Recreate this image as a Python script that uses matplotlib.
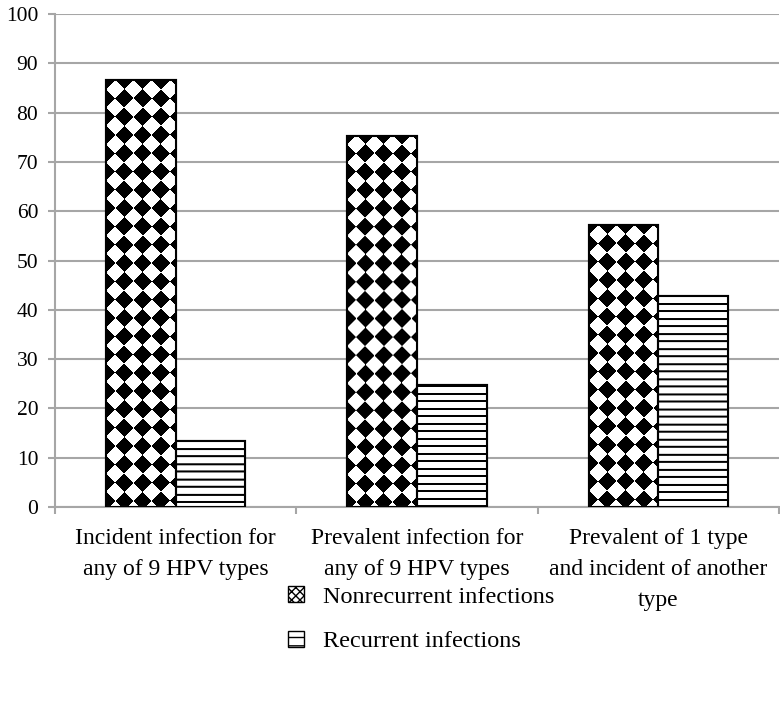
import numpy as np
import matplotlib
matplotlib.use("Agg")
import matplotlib.pyplot as plt
from matplotlib.patches import Patch

categories = ["Incident infection for\nany of 9 HPV types",
              "Prevalent infection for\nany of 9 HPV types",
              "Prevalent of 1 type\nand incident of another\ntype"]
nonrecurrent = [86.6, 75.3, 57.1]
recurrent = [13.4, 24.7, 42.9]
series_names = ["Nonrecurrent infections", "Recurrent infections"]
y_ticks = list(range(0, 101, 10))

plt.rcParams['font.family'] = ['Liberation Serif', 'DejaVu Serif']
grid_col = '#a6a6a6'

fig = plt.figure(figsize=(7.8, 7.08), dpi=100)
fig.set_facecolor('#FFFFFF')
ax = fig.add_axes([55 / 780, 1 - 507 / 708, 724 / 780, 493 / 708])

x = np.arange(len(categories))
w = 0.288
ax.set_xlim(-0.5, len(categories) - 0.5)
ax.set_ylim(0, 100)


def diamonds(h, wd, s=18.3):
    yy, xx = np.mgrid[0:h, 0:wd] + 0.5
    xx = xx - s / 2
    return ((np.floor((xx + yy) / s) + np.floor((xx - yy) / s)) % 2 == 0)


def stripes(h, wd, step=7.5, thick=2):
    yy, xx = np.mgrid[0:h, 0:wd]
    return (yy % step) < thick


def fill_pattern(bars, maker):
    for b in bars:
        x0, y0 = b.get_x(), b.get_y()
        x1, y1 = x0 + b.get_width(), y0 + b.get_height()
        p0 = ax.transData.transform((x0, y0))
        p1 = ax.transData.transform((x1, y1))
        wd = max(int(round(p1[0] - p0[0])), 1)
        h = max(int(round(p1[1] - p0[1])), 1)
        img = maker(h, wd)
        im = ax.imshow(np.where(img, 0.0, 1.0), cmap='gray', vmin=0, vmax=1,
                       extent=(x0, x1, y0, y1), origin='upper', aspect='auto',
                       interpolation='antialiased', zorder=2.5)
        im.set_clip_path(b)


b1 = ax.bar(x - w / 2, nonrecurrent, w, color='white', edgecolor='black',
            linewidth=1.5, zorder=2)
b2 = ax.bar(x + w / 2, recurrent, w, color='white', edgecolor='black',
            linewidth=1.5, zorder=2)
ax.set_xlim(-0.5, len(categories) - 0.5)
ax.set_ylim(0, 100)
fill_pattern(b1, diamonds)
fill_pattern(b2, stripes)
# outlines on top of the patterns
ax.bar(x - w / 2, nonrecurrent, w, facecolor='none', edgecolor='black',
       linewidth=1.5, zorder=3)
ax.bar(x + w / 2, recurrent, w, facecolor='none', edgecolor='black',
       linewidth=1.5, zorder=3)

ax.set_yticks(y_ticks)
ax.yaxis.grid(True, color=grid_col, linewidth=1.5, zorder=0)
ax.set_axisbelow(True)
ax.tick_params(axis='y', length=5, color=grid_col, width=1.5, labelsize=15.5, pad=7)

ax.set_xticks(x)
ax.set_xticklabels(categories, fontsize=17, linespacing=1.63)
ax.set_xticks(np.arange(-0.5, len(categories)), minor=True)
ax.tick_params(axis='x', which='major', length=0, pad=15)
ax.tick_params(axis='x', which='minor', length=5, color=grid_col, width=1.5)

for side in ['top', 'right']:
    ax.spines[side].set_visible(False)
for side in ['left', 'bottom']:
    ax.spines[side].set_color(grid_col)
    ax.spines[side].set_linewidth(1.5)

handles = [Patch(facecolor='white', edgecolor='black', hatch='xxxx', label=series_names[0]),
           Patch(facecolor='white', edgecolor='black', hatch='--', label=series_names[1])]
fig.legend(handles=handles, loc='upper left', bbox_to_anchor=(266 / 780, 1 - 564 / 708),
           frameon=False, fontsize=17.5, handlelength=0.65, handleheight=0.65,
           handletextpad=0.8, labelspacing=0.95)

fig.savefig('out.png', dpi=100)
